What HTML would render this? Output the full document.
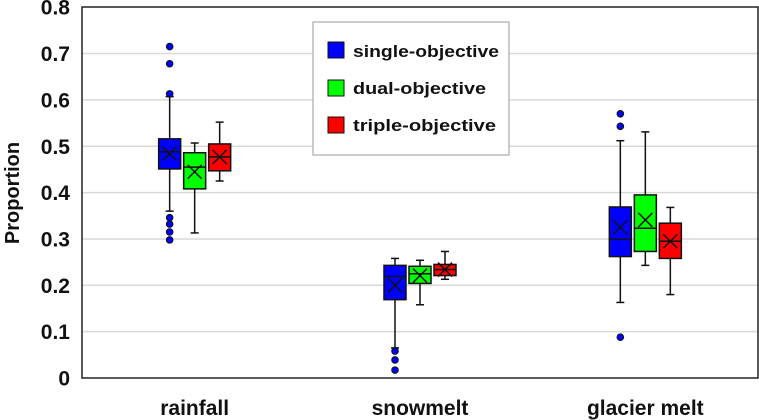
<!DOCTYPE html>
<html><head><meta charset="utf-8"><style>
html,body{margin:0;padding:0;background:#fff;}
svg{display:block;font-family:"Liberation Sans",sans-serif;font-weight:bold;}
</style></head><body>
<svg id="chart" width="759" height="420" viewBox="0 0 759 420">
<g id="grid"></g>
<g id="yticks"></g>
<g id="boxes"></g>
<rect x="82" y="7" width="676" height="371" fill="none" stroke="#222" stroke-width="1.5"/>
<text transform="translate(19,193) rotate(-90)" text-anchor="middle" font-size="20" fill="#111">Proportion</text>
<g id="xlabels"></g>
<g>
<rect x="313" y="22" width="196" height="133" fill="#fff" stroke="#aaa" stroke-width="1.2"/>
<rect x="328" y="42" width="16" height="16" fill="#0000ff" stroke="#111"/>
<text x="353" y="57" font-size="17" fill="#111" textLength="146" lengthAdjust="spacingAndGlyphs">single-objective</text>
<rect x="328" y="80" width="16" height="16" fill="#00ff00" stroke="#111"/>
<text x="353" y="94" font-size="17" fill="#111" textLength="133" lengthAdjust="spacingAndGlyphs">dual-objective</text>
<rect x="328" y="117" width="16" height="16" fill="#ff0000" stroke="#111"/>
<text x="353" y="131" font-size="17" fill="#111" textLength="143" lengthAdjust="spacingAndGlyphs">triple-objective</text>
</g>
</svg>
<script>
const categories = ["rainfall","snowmelt","glacier melt"];
const seriesNames = ["single-objective","dual-objective","triple-objective"];
const yTicks = [0,0.1,0.2,0.3,0.4,0.5,0.6,0.7,0.8];
const yTickLabels = ["0","0.1","0.2","0.3","0.4","0.5","0.6","0.7","0.8"];
// [whiskerLow, q1, median, q3, whiskerHigh, mean] per category
const singleStats = [[0.36,0.451,0.488,0.516,0.607,0.484],[0.065,0.169,0.219,0.243,0.258,0.2],[0.163,0.262,0.299,0.369,0.512,0.325]];
const dualStats = [[0.313,0.408,0.455,0.486,0.507,0.445],[0.158,0.204,0.225,0.241,0.254,0.221],[0.243,0.273,0.323,0.395,0.531,0.341]];
const tripleStats = [[0.425,0.447,0.477,0.505,0.552,0.477],[0.213,0.221,0.234,0.245,0.273,0.234],[0.18,0.258,0.295,0.334,0.368,0.295]];
const singleOutliers = [[0.715,0.678,0.613,0.346,0.332,0.315,0.298],[0.058,0.039,0.017],[0.088,0.57,0.543]];
const dualOutliers = [[],[],[]];
const tripleOutliers = [[],[],[]];

const NS="http://www.w3.org/2000/svg";
const X0=82,X1=758,Y0=378,Y1=7.2;
const yScale=v=>Y0-(v/0.8)*(Y0-Y1);
const band=(X1-X0)/categories.length;
const xCenter=i=>X0+band*(i+0.5);
const colors=["#0000ff","#00ff00","#ff0000"];
const offsets=[-25,0,25];
const BW=22;
function mk(tag,attrs,parent){const e=document.createElementNS(NS,tag);for(const k in attrs)e.setAttribute(k,attrs[k]);parent.appendChild(e);return e;}
const grid=document.getElementById('grid'),yt=document.getElementById('yticks'),bx=document.getElementById('boxes'),xl=document.getElementById('xlabels');
yTicks.forEach((t,i)=>{
  const y=yScale(t);
  if(t>0&&t<0.8){const l=mk('line',{x1:X0,x2:X1,y1:y,y2:y,stroke:'#d9d9d9','stroke-width':1.5},grid);
  
  }
  const tx=mk('text',{x:70,y:y+7.5,'text-anchor':'end','font-size':21,fill:'#111'},yt);
  tx.textContent=yTickLabels[i];
  
  
});
categories.forEach((c,i)=>{
  const t=mk('text',{x:xCenter(i),y:415,'text-anchor':'middle','font-size':21,fill:'#111'},xl);
  t.textContent=c;
  
  
});
const allStats=[singleStats,dualStats,tripleStats];
const allOut=[singleOutliers,dualOutliers,tripleOutliers];
allStats.forEach((stats,s)=>{
  stats.forEach((st,i)=>{
    const cx=xCenter(i)+offsets[s];
    const g=mk('g',{},bx);
    
    
    const [wl,q1,md,q3,wh,mn]=st;
    const sty={stroke:'#111','stroke-width':1.5};
    mk('line',Object.assign({x1:cx,x2:cx,y1:yScale(wh),y2:yScale(q3)},sty),g);
    mk('line',Object.assign({x1:cx,x2:cx,y1:yScale(q1),y2:yScale(wl)},sty),g);
    mk('line',Object.assign({x1:cx-4,x2:cx+4,y1:yScale(wh),y2:yScale(wh)},sty),g);
    mk('line',Object.assign({x1:cx-4,x2:cx+4,y1:yScale(wl),y2:yScale(wl)},sty),g);
    mk('rect',{x:cx-BW/2,y:yScale(q3),width:BW,height:yScale(q1)-yScale(q3),fill:colors[s],stroke:'#111','stroke-width':1.5},g);
    mk('line',Object.assign({x1:cx-BW/2,x2:cx+BW/2,y1:yScale(md),y2:yScale(md)},sty),g);
    const my=yScale(mn);
    mk('line',Object.assign({x1:cx-7,x2:cx+7,y1:my-7,y2:my+7},sty),g);
    mk('line',Object.assign({x1:cx-7,x2:cx+7,y1:my+7,y2:my-7},sty),g);
    allOut[s][i].forEach(v=>{
      const d=mk('circle',{cx:cx,cy:yScale(v),r:3.3,fill:colors[s],stroke:'#111','stroke-width':1},g);
      
      
    });
  });
});
</script>
</body></html>
